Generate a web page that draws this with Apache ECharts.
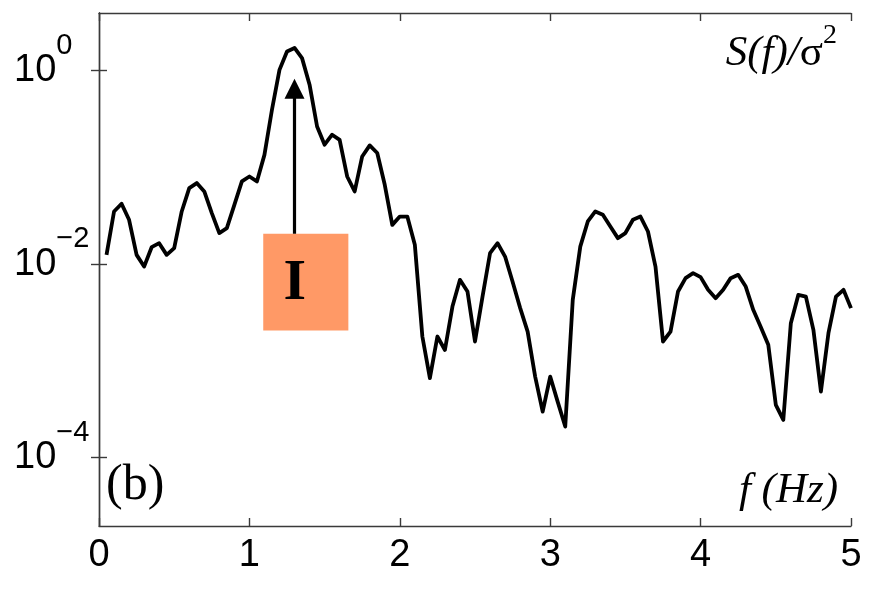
<!DOCTYPE html>
<html>
<head>
<meta charset="utf-8">
<style>
  html, body { margin: 0; padding: 0; background: #fff; }
  #chart { width: 876px; height: 589px; }
</style>
<script src="https://cdn.jsdelivr.net/npm/echarts@6/dist/echarts.min.js"></script>
</head>
<body>
<div id="chart"></div>
<script>
// Frequency grid (Hz)
const freq = [
  0.05, 0.10, 0.15, 0.20, 0.25, 0.30, 0.35, 0.40, 0.45, 0.50,
  0.55, 0.60, 0.65, 0.70, 0.75, 0.80, 0.85, 0.90, 0.95, 1.00,
  1.05, 1.10, 1.15, 1.20, 1.25, 1.30, 1.35, 1.40, 1.45, 1.50,
  1.55, 1.60, 1.65, 1.70, 1.75, 1.80, 1.85, 1.90, 1.95, 2.00,
  2.05, 2.10, 2.15, 2.20, 2.25, 2.30, 2.35, 2.40, 2.45, 2.50,
  2.55, 2.60, 2.65, 2.70, 2.75, 2.80, 2.85, 2.90, 2.95, 3.00,
  3.05, 3.10, 3.15, 3.20, 3.25, 3.30, 3.35, 3.40, 3.45, 3.50,
  3.55, 3.60, 3.65, 3.70, 3.75, 3.80, 3.85, 3.90, 3.95, 4.00,
  4.05, 4.10, 4.15, 4.20, 4.25, 4.30, 4.35, 4.40, 4.45, 4.50,
  4.55, 4.60, 4.65, 4.70, 4.75, 4.80, 4.85, 4.90, 4.95, 5.00
];

// Normalised spectrum S(f)/sigma^2
const spectrum = [
  0.0125, 0.0351, 0.0422, 0.0288, 0.0125, 0.00946, 0.0150, 0.0165, 0.0125, 0.0147,
  0.0351, 0.0612, 0.0690, 0.0565, 0.0338, 0.0210, 0.0236, 0.0411, 0.0717, 0.0807,
  0.0717, 0.135, 0.395, 1.02, 1.58, 1.72, 1.35, 0.717, 0.265, 0.172,
  0.218, 0.193, 0.0807, 0.0565, 0.130, 0.169, 0.141, 0.0662, 0.0255, 0.0311,
  0.0311, 0.0159, 0.00179, 0.000664, 0.00179, 0.00130, 0.00365, 0.00690, 0.00523, 0.00159,
  0.00463, 0.0130, 0.0165, 0.0120, 0.00658, 0.00354, 0.00201, 0.000690, 0.000300, 0.000690,
  0.000378, 0.000210, 0.00428, 0.0152, 0.0277, 0.0351, 0.0324, 0.0245, 0.0186, 0.0210,
  0.0288, 0.0311, 0.0218, 0.00946, 0.00159, 0.00201, 0.00523, 0.00718, 0.00809, 0.00736,
  0.00544, 0.00446, 0.00544, 0.00718, 0.00777, 0.00588, 0.00338, 0.00225, 0.00147, 0.000352,
  0.000246, 0.00246, 0.00483, 0.00463, 0.00210, 0.000483, 0.00194, 0.00463, 0.00544, 0.00352
];

// Axis ticks
const xTicks = [0, 1, 2, 3, 4, 5];
const yTickExponents = [-4, -2, 0];
const yRange = [1.97e-5, 3.95];

// Peak marker: arrow at f = 1.3 Hz rising from the "I" box
const arrowF = 1.3;
const arrowFrom = 0.0206;
const arrowTo = 0.65;       // triangle head is centred here
const boxF = [1.092, 1.658];
const boxS = [0.00206, 0.0206];
const boxText = 'I';

const lg = Math.log10;
const points = freq.map((f, i) => [f, lg(spectrum[i])]);

const axisColor = '#3a3a3a';
const sansFont = '"Liberation Sans", Arial, sans-serif';
const serifFont = '"Liberation Serif", "Times New Roman", serif';

function expLabel(v) {
  const e = v < 0 ? '\u2212' + (-v) : String(v);
  return '{b|10}{s|' + e + '}';
}

const yCommon = {
  type: 'value',
  min: lg(yRange[0]),
  max: lg(yRange[1]),
  splitLine: { show: false },
  axisLine: { show: true, lineStyle: { color: axisColor, width: 1.4 } },
  axisTick: { show: true, inside: true, length: 8, customValues: yTickExponents,
              lineStyle: { color: axisColor, width: 1.4 } }
};

const xCommon = {
  type: 'value',
  min: 0,
  max: 5,
  interval: 1,
  splitLine: { show: false },
  axisLine: { show: true, onZero: false, lineStyle: { color: axisColor, width: 1.4 } },
  axisTick: { show: true, inside: true, length: 8, lineStyle: { color: axisColor, width: 1.4 } }
};

const chart = echarts.init(document.getElementById('chart'), null, { renderer: 'canvas' });

chart.setOption({
  animation: false,
  backgroundColor: '#ffffff',
  grid: { left: 99, right: 25, top: 13, bottom: 63, containLabel: false },
  xAxis: [
    Object.assign({}, xCommon, {
      position: 'bottom',
      axisLabel: {
        show: true, color: '#000', fontFamily: sansFont, fontSize: 38, lineHeight: 38, margin: 11,
        customValues: xTicks, formatter: v => String(v)
      }
    }),
    Object.assign({}, xCommon, { position: 'top', axisLabel: { show: false } })
  ],
  yAxis: [
    Object.assign({}, yCommon, {
      position: 'left',
      axisLabel: {
        show: true, align: 'left', margin: 85, color: '#000',
        customValues: yTickExponents,
        formatter: expLabel,
        rich: {
          b: { fontFamily: sansFont, fontSize: 38, lineHeight: 79, color: '#000' },
          s: { fontFamily: sansFont, fontSize: 29, lineHeight: 29, verticalAlign: 'top', color: '#000' }
        }
      }
    }),
    Object.assign({}, yCommon, { position: 'right', axisLabel: { show: false } })
  ],
  series: [
    {
      type: 'line',
      xAxisIndex: 0,
      yAxisIndex: 0,
      data: points,
      showSymbol: false,
      symbol: 'none',
      silent: true,
      lineStyle: { color: '#000', width: 3.8, join: 'round' },
      markArea: {
        silent: true,
        itemStyle: { color: '#FF9966', opacity: 1 },
        label: {
          show: true, position: 'inside', formatter: boxText,
          fontFamily: serifFont, fontWeight: 'bold', fontSize: 58, color: '#000', offset: [-11, 2]
        },
        data: [[
          { coord: [boxF[0], lg(boxS[1])] },
          { coord: [boxF[1], lg(boxS[0])] }
        ]]
      },
      markLine: {
        silent: true,
        symbol: ['none', 'triangle'],
        symbolSize: 20,
        label: { show: false },
        lineStyle: { color: '#000', width: 3.2, type: 'solid' },
        data: [[
          { coord: [arrowF, lg(arrowFrom)] },
          { coord: [arrowF, lg(arrowTo)] }
        ]]
      }
    }
  ],
  graphic: [
    {
      type: 'text',
      right: 39, top: 22,
      style: {
        text: '{i|S(f)/}{n|\u03c3}{s|2}',
        rich: {
          i: { fontFamily: serifFont, fontStyle: 'italic', fontSize: 43, lineHeight: 64, fill: '#000' },
          n: { fontFamily: serifFont, fontSize: 43, lineHeight: 64, fill: '#000' },
          s: { fontFamily: serifFont, fontSize: 28, lineHeight: 28, verticalAlign: 'top', fill: '#000' }
        }
      }
    },
    {
      type: 'text',
      right: 38, top: 469,
      style: {
        text: 'f (Hz)',
        font: 'italic 43px ' + serifFont,
        fill: '#000'
      }
    },
    {
      type: 'text',
      left: 106, top: 461,
      style: {
        text: '(b)',
        font: '50px ' + serifFont,
        fill: '#000'
      }
    }
  ]
});
</script>
</body>
</html>
